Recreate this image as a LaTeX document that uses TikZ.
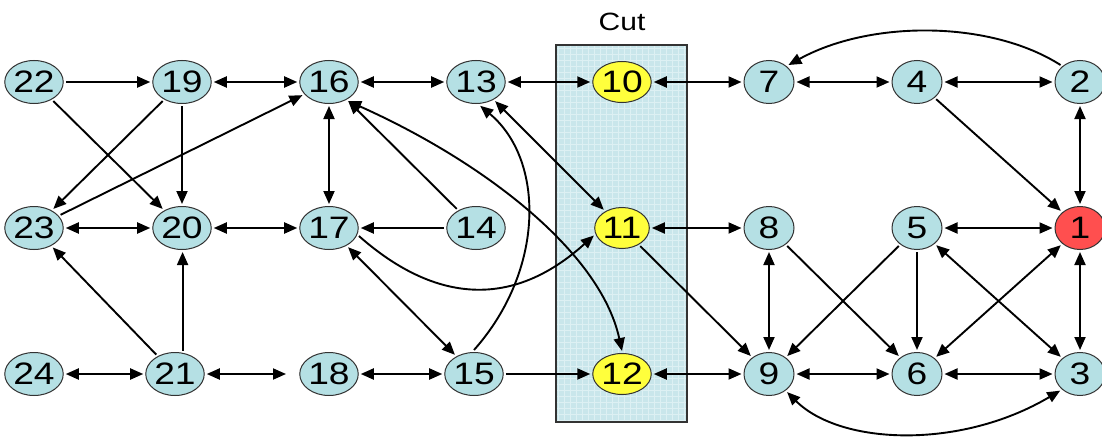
\documentclass[tikz,border=0pt]{standalone}
\usepackage{fontspec}
\usepackage{graphicx}
\setmainfont{Liberation Sans}
\usetikzlibrary{arrows.meta,shapes.geometric}
\definecolor{nodeblue}{HTML}{B5E0E4}
\definecolor{nodered}{HTML}{FF4F4F}
\definecolor{nodeyellow}{HTML}{FFFF3C}
\definecolor{cutfill}{HTML}{C9E6EB}
\definecolor{cutgrid}{HTML}{DDF0F3}
\definecolor{rim}{HTML}{333333}
\tikzset{
  vtx/.style={ellipse,draw=rim,line width=1pt,fill=nodeblue,minimum width=50pt,minimum height=43pt,inner sep=0pt,outer sep=2.5pt,
    font=\fontsize{31}{31}\selectfont},
  redv/.style={vtx,fill=nodered},
  yelv/.style={vtx,fill=nodeyellow,minimum width=48pt,minimum height=41pt},
  edge/.style={line width=1.9pt,-{Triangle[length=13pt,width=11pt]}},
  dedge/.style={line width=1.9pt,{Triangle[length=13pt,width=11pt]}-{Triangle[length=13pt,width=11pt]}},
}
\newcommand{\lbl}[1]{\scalebox{1.2}[1]{#1}}
\begin{document}
\begin{tikzpicture}[x=1pt,y=-1pt]
\useasboundingbox (0,0) rectangle (1102,436);
% cut region
\fill[cutfill] (556,45) rectangle (687,422);
\draw[cutgrid,line width=0.5pt,step=6pt] (556,45) grid (687,422);
\draw[line width=1.3pt,rim] (556,45) rectangle (687,422);
\node (cut) at (622,22) {\fontsize{25}{25}\selectfont\lbl{Cut}};
% nodes
\node[vtx]  (n22) at (34,82)   {\lbl{22}};
\node[vtx]  (n19) at (182,82)  {\lbl{19}};
\node[vtx]  (n16) at (329,82)  {\lbl{16}};
\node[vtx]  (n13) at (476,82)  {\lbl{13}};
\node[yelv] (n10) at (622,82)  {\lbl{10}};
\node[vtx]  (n7)  at (769,82)  {\lbl{7}};
\node[vtx]  (n4)  at (917,82)  {\lbl{4}};
\node[vtx]  (n2)  at (1080,82) {\lbl{2}};
\node[vtx]  (n23) at (34,228)  {\lbl{23}};
\node[vtx]  (n20) at (182,228) {\lbl{20}};
\node[vtx]  (n17) at (329,228) {\lbl{17}};
\node[vtx]  (n14) at (476,228) {\lbl{14}};
\node[yelv] (n11) at (622,228) {\lbl{11}};
\node[vtx]  (n8)  at (769,228) {\lbl{8}};
\node[vtx]  (n5)  at (917,228) {\lbl{5}};
\node[redv] (n1)  at (1080,228){\lbl{1}};
\node[vtx]  (n24) at (34,374)  {\lbl{24}};
\node[vtx]  (n21) at (175,374) {\lbl{21}};
\node[vtx]  (n18) at (329,374) {\lbl{18}};
\node[vtx]  (n15) at (474,374) {\lbl{15}};
\node[yelv] (n12) at (622,374) {\lbl{12}};
\node[vtx]  (n9)  at (769,374) {\lbl{9}};
\node[vtx]  (n6)  at (917,374) {\lbl{6}};
\node[vtx]  (n3)  at (1080,374){\lbl{3}};
\coordinate (free) at (286,374);
% top row
\draw[edge]  (n22) -- (n19);
\draw[edge]  (n22) -- (n20);
\draw[dedge] (n19) -- (n16);
\draw[edge]  (n19) -- (n23);
\draw[edge]  (n19) -- (n20);
\draw[edge]  (n23) -- (n16);
\draw[dedge] (n16) -- (n13);
\draw[dedge] (n16) -- (n17);
\draw[edge]  (n14) -- (n16);
\draw[dedge] (n13) -- (n10);
\draw[dedge] (n10) -- (n7);
\draw[dedge] (n7) -- (n4);
\draw[dedge] (n4) -- (n2);
\draw[edge]  (n4) -- (n1);
\draw[dedge] (n2) -- (n1);
\draw[edge]  (n2.north west) .. controls (990,20) and (870,20) .. (n7.north east);
\draw[dedge] (n13) -- (n11);
% middle row
\draw[dedge] (n23) -- (n20);
\draw[dedge] (n20) -- (n17);
\draw[edge]  (n14) -- (n17);
\draw[dedge] (n11) -- (n8);
\draw[dedge] (n5) -- (n1);
\draw[edge]  (n11) -- (n9);
\draw[dedge] (n8) -- (n9);
\draw[edge]  (n8) -- (n6);
\draw[edge]  (n5) -- (n9);
\draw[edge]  (n5) -- (n6);
\draw[dedge] (n5) -- (n3);
\draw[dedge] (n1) -- (n6);
\draw[dedge] (n1) -- (n3);
\draw[dedge] (n17) -- (n15);
\draw[edge]  (n21) -- (n23);
\draw[edge]  (n21.72) -- (n21.72 |- n20.south);
% curves
\draw[dedge] (n16.-45) .. controls (480,160) and (600,250) .. (n12.north);
\draw[edge]  (n15.north) .. controls (545,270) and (545,160) .. (n13.-80);
\draw[edge]  (n17.-15) .. controls (420,290) and (500,320) .. (n11.-165);
\draw[dedge] (n9.-45) .. controls (840,445) and (960,450) .. (n3.-140);
% bottom row
\draw[dedge] (n24) -- (n21);
\draw[dedge] (n21) -- (free);
\draw[dedge] (n18) -- (n15);
\draw[edge]  (n15) -- (n12);
\draw[dedge] (n12) -- (n9);
\draw[dedge] (n9) -- (n6);
\draw[dedge] (n6) -- (n3);
\end{tikzpicture}
\end{document}
